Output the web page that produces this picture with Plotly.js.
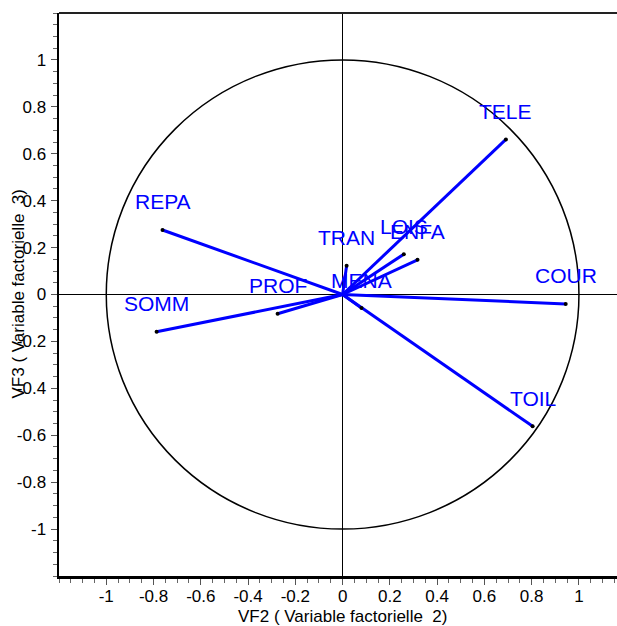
<!DOCTYPE html>
<html>
<head>
<meta charset="utf-8">
<script src="https://cdn.plot.ly/plotly-3.0.1.min.js"></script>
<style>html,body{margin:0;padding:0;background:#fff;}#chart{width:617px;height:626px;}</style>
</head>
<body>
<div id="chart"></div>
<script>
// Variables and their coordinates on factors VF2 (x) and VF3 (y)
const variables = ['REPA','SOMM','PROF','TRAN','MENA','LOIS','ENFA','TELE','COUR','TOIL'];
const vf2 = [-0.762, -0.787, -0.275, 0.017, 0.080, 0.259, 0.317, 0.691, 0.944, 0.804];
const vf3 = [0.275, -0.159, -0.082, 0.123, -0.058, 0.172, 0.148, 0.661, -0.040, -0.562];

const xTickVals = [-1, -0.8, -0.6, -0.4, -0.2, 0, 0.2, 0.4, 0.6, 0.8, 1];
const xTickText = ['-1','-0.8','-0.6','-0.4','-0.2','0','0.2','0.4','0.6','0.8','1'];
const yTickVals = [-1, -0.8, -0.6, -0.4, -0.2, 0, 0.2, 0.4, 0.6, 0.8, 1];
const yTickText = ['-1','-0.8','-0.6','-0.4','-0.2','0','0.2','0.4','0.6','0.8','1'];

const xTitle = 'VF2 ( Variable factorielle \u00a02)';
const yTitle = 'VF3 ( Variable factorielle \u00a03)';

const FONT = 'Liberation Sans, Arial, sans-serif';

// Build vector segments from origin
const lx = [], ly = [];
variables.forEach((v, i) => { lx.push(0, vf2[i], null); ly.push(0, vf3[i], null); });

const traces = [
  {x: lx, y: ly, mode: 'lines', type: 'scatter', line: {color: '#0000ff', width: 3}, hoverinfo: 'skip', showlegend: false},
  {x: vf2, y: vf3, mode: 'markers', type: 'scatter', marker: {color: '#000', size: 4}, text: variables, showlegend: false}
];

const annotations = variables.map((v, i) => ({
  x: vf2[i], y: vf3[i], xref: 'x', yref: 'y', text: v, showarrow: false,
  yshift: 28, xanchor: 'center', yanchor: 'middle',
  font: {family: FONT, size: 21, color: '#0000ff'}
}));
annotations.push({
  x: 0, y: -0.0715, xref: 'x', yref: 'paper', text: xTitle, showarrow: false,
  xanchor: 'center', yanchor: 'middle', font: {family: FONT, size: 17, color: '#000'}
});
annotations.push({
  x: (18 - 59) / 558, xref: 'paper', y: 0, yref: 'y', text: yTitle, showarrow: false, textangle: -90,
  xanchor: 'center', yanchor: 'middle', font: {family: FONT, size: 17, color: '#000'}
});

const axisCommon = {
  showgrid: false, zeroline: true, zerolinecolor: '#000', zerolinewidth: 1.5,
  showline: true, linecolor: '#000', linewidth: 2.5,
  ticks: 'outside', ticklen: 6, tickwidth: 1, tickcolor: '#555',
  tickmode: 'array', tickfont: {family: FONT, size: 17, color: '#000'},
  minor: {tickmode: 'linear', tick0: 0, dtick: 0.05, ticklen: 4, tickwidth: 1, tickcolor: '#666', ticks: 'outside'},
  fixedrange: true
};

const layout = {
  width: 617, height: 626,
  margin: {l: 59, r: 0, t: 13, b: 50},
  paper_bgcolor: '#fff', plot_bgcolor: '#fff',
  font: {family: FONT, size: 17, color: '#000'},
  xaxis: Object.assign({}, axisCommon, {range: [-1.2, 1.161], tickvals: xTickVals, ticktext: xTickText, ticklabelstandoff: -3}),
  yaxis: Object.assign({}, axisCommon, {range: [-1.2, 1.2], tickvals: yTickVals, ticktext: yTickText, ticklabelstandoff: 1}),
  shapes: [
    {type: 'circle', xref: 'x', yref: 'y', x0: -1, y0: -1, x1: 1, y1: 1, line: {color: '#000', width: 1.5}, layer: 'below'},
    {type: 'line', xref: 'paper', yref: 'paper', x0: 0, x1: 1, y0: 1, y1: 1, line: {color: '#222', width: 2}}
  ],
  annotations: annotations,
  showlegend: false
};

Plotly.newPlot('chart', traces, layout, {displayModeBar: false, staticPlot: true});
</script>
</body>
</html>
